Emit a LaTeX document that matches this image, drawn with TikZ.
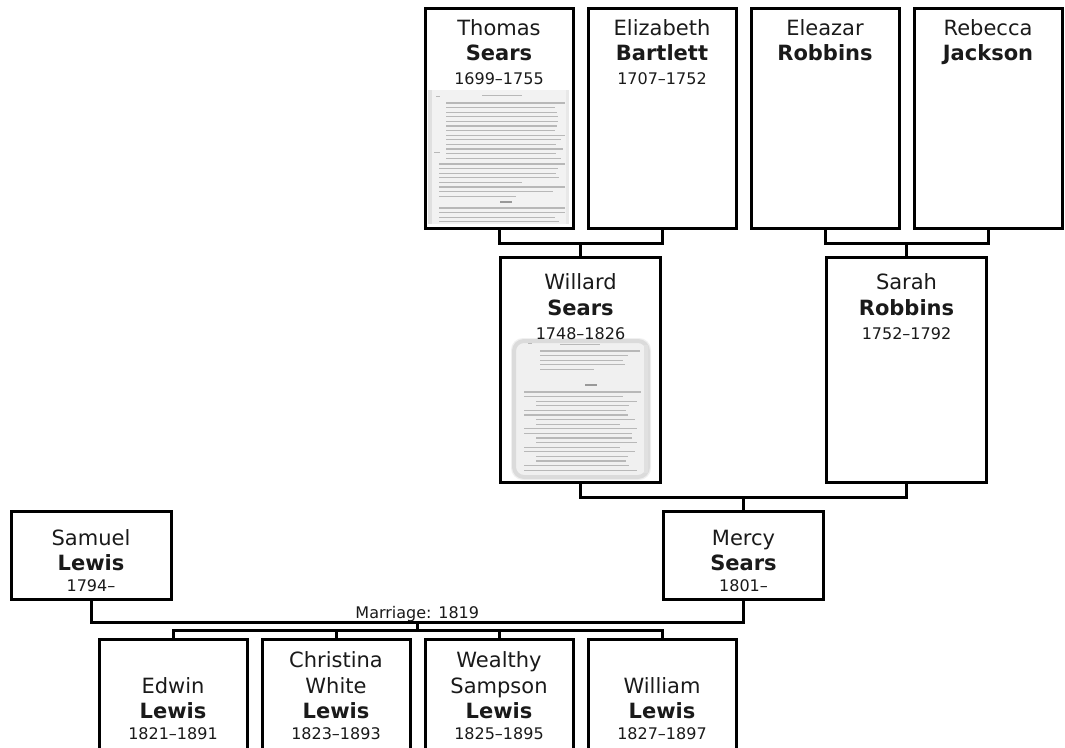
\documentclass[tikz,border=0pt]{standalone}
\usepackage{fontspec}
\setmainfont{DejaVu Sans}
\definecolor{txt}{HTML}{1A1A1A}
\begin{document}
\begin{tikzpicture}[x=1pt,y=-1pt,
  pbox/.style={draw=black, line width=3pt, rectangle, inner sep=0pt, fill=white},
  tall/.style={pbox, minimum width=148pt, minimum height=220pt},
  mid/.style={pbox, minimum width=160pt, minimum height=225pt},
  short/.style={pbox, minimum width=160pt, minimum height=88pt},
  kid/.style={pbox, minimum width=148pt, minimum height=220pt},
  conn/.style={draw=black, line width=3pt},
  fn/.style={anchor=base, inner sep=0pt, font=\fontsize{21}{25}\selectfont, text=txt},
  ln/.style={anchor=base, inner sep=0pt, font=\fontsize{21}{25}\selectfont\bfseries, text=txt},
  dt/.style={anchor=base, inner sep=0pt, font=\fontsize{16}{20}\selectfont, text=txt},
  docline/.style={draw=black!28, line width=1.2pt},
  ]
\useasboundingbox (0,0) rectangle (1065,747);
\fill[white] (0,0) rectangle (1065,747);
\clip (0,0) rectangle (1065,747);

% ---- boxes ----
\node[tall] (thomas)    at (499,118) {};
\node[tall] (elizabeth) at (662,118) {};
\node[tall] (eleazar)   at (825,118) {};
\node[tall] (rebecca)   at (988,118) {};
\node[mid]  (willard)   at (580.5,370) {};
\node[mid]  (sarah)     at (906.5,370) {};
\node[short] (samuel)   at (91,555.5) {};
\node[short] (mercy)    at (743.5,555.5) {};
\node[kid] (edwin)      at (173,749.5) {};
\node[kid] (christina)  at (336,749.5) {};
\node[kid] (wealthy)    at (499,749.5) {};
\node[kid] (william)    at (662,749.5) {};

% ---- scanned document (Thomas) ----
\fill[black!5] (428,90) rectangle (569,224);
\fill[black!12] (428,90) rectangle (432,224);
\fill[black!9] (566,90) rectangle (569,224);
\draw[black!28, line width=0.8pt] (482,95) -- (522,95);
\draw[black!28, line width=0.8pt] (436,96) -- (440,96);
\foreach \i in {0,...,12} {
  \pgfmathsetmacro\yy{103+4.6*\i}
  \pgfmathsetmacro\xe{565-mod(\i*\i*7+3*\i,13)}
  \draw[docline] (446,\yy) -- (\xe,\yy);
}
\draw[black!28, line width=0.8pt] (434,152) -- (440,152);
\foreach \i in {0,...,7} {
  \pgfmathsetmacro\yy{164+4.6*\i}
  \pgfmathsetmacro\xe{565-mod(\i*\i*5+2*\i,15)-(\i==4)*30-(\i==7)*45}
  \draw[docline] (439,\yy) -- (\xe,\yy);
}
\draw[black!40, line width=1.6pt] (500,202) -- (512,202);
\foreach \i in {0,...,3} {
  \pgfmathsetmacro\yy{208+4.6*\i}
  \pgfmathsetmacro\xe{565-mod(\i*\i*11+\i,12)}
  \draw[docline] (439,\yy) -- (\xe,\yy);
}

% ---- scanned document (Willard) ----
\fill[black!6, rounded corners=12pt] (511,338) rectangle (651,480);
\draw[black!14, line width=4pt, rounded corners=10pt] (514,341) rectangle (648,477);
\fill[black!12] (644,345) rectangle (648,473);
\draw[black!28, line width=0.8pt] (560,344) -- (600,344);
\draw[black!28, line width=0.8pt] (528,343) -- (532,343);
\foreach \i in {0,...,4} {
  \pgfmathsetmacro\yy{351+4.6*\i}
  \pgfmathsetmacro\xe{640-mod(\i*\i*7+5*\i,21)-(\i==4)*40}
  \draw[docline] (540,\yy) -- (\xe,\yy);
}
\draw[black!40, line width=1.6pt] (585,385) -- (597,385);
\foreach \i in {0,...,17} {
  \pgfmathsetmacro\yy{392+4.6*\i}
  \pgfmathsetmacro\xs{524+mod(\i*\i*3+\i,4)*6}
  \pgfmathsetmacro\xe{641-mod(\i*\i*11+7*\i,27)}
  \draw[docline] (\xs,\yy) -- (\xe,\yy);
}

% ---- texts ----
\node[fn] (t1) at (499,35) {Thomas};
\node[ln] (t2) at (499,60) {Sears};
\node[dt] (t3) at (499,84) {1699–1755};
\node[fn] (e1) at (662,35) {Elizabeth};
\node[ln] (e2) at (662,60) {Bartlett};
\node[dt] (e3) at (662,84) {1707–1752};
\node[fn] (l1) at (825,35) {Eleazar};
\node[ln] (l2) at (825,60) {Robbins};
\node[fn] (r1) at (988,35) {Rebecca};
\node[ln] (r2) at (988,60) {Jackson};
\node[fn] (w1) at (580.5,289.5) {Willard};
\node[ln] (w2) at (580.5,315) {Sears};
\node[dt] (w3) at (580.5,339) {1748–1826};
\node[fn] (s1) at (906.5,289.5) {Sarah};
\node[ln] (s2) at (906.5,315) {Robbins};
\node[dt] (s3) at (906.5,339) {1752–1792};
\node[fn] (a1) at (91,545) {Samuel};
\node[ln] (a2) at (91,570.5) {Lewis};
\node[dt] (a3) at (91,591) {1794–};
\node[fn] (m1) at (743.5,545) {Mercy};
\node[ln] (m2) at (743.5,570.5) {Sears};
\node[dt] (m3) at (743.5,591) {1801–};
\node[fn] (d1) at (173,693) {Edwin};
\node[ln] (d2) at (173,718) {Lewis};
\node[dt] (d3) at (173,739) {1821–1891};
\node[fn] (c1) at (336,667) {Christina};
\node[fn] (c2) at (336,693) {White};
\node[ln] (c3) at (336,718) {Lewis};
\node[dt] (c4) at (336,739) {1823–1893};
\node[fn] (h1) at (499,667) {Wealthy};
\node[fn] (h2) at (499,693) {Sampson};
\node[ln] (h3) at (499,718) {Lewis};
\node[dt] (h4) at (499,739) {1825–1895};
\node[fn] (i1) at (662,693) {William};
\node[ln] (i2) at (662,718) {Lewis};
\node[dt] (i3) at (662,739) {1827–1897};

% ---- connectors ----
\coordinate (j1) at (580.5,243);
\coordinate (j2) at (906.5,243);
\coordinate (j3) at (743.5,497);
\coordinate (mj) at (417.25,622);
\coordinate (kj) at (417.25,630);
\draw[conn] (thomas.south) |- (j1) -| (elizabeth.south);
\draw[conn] (j1) -- (willard.north);
\draw[conn] (eleazar.south) |- (j2) -| (rebecca.south);
\draw[conn] (j2) -- (sarah.north);
\draw[conn] (willard.south) |- (j3) -| (sarah.south);
\draw[conn] (j3) -- (mercy.north);
\draw[conn] (samuel.south) |- (mj) -| (mercy.south);
\draw[conn] (mj) -- (kj);
\draw[conn] (edwin.north) |- (kj) -| (william.north);
\draw[conn] (christina.north) -- (christina.north |- kj);
\draw[conn] (wealthy.north) -- (wealthy.north |- kj);
\node[dt, anchor=base] (mar) at (417.25,618) {Marriage: 1819};
\end{tikzpicture}
\end{document}
